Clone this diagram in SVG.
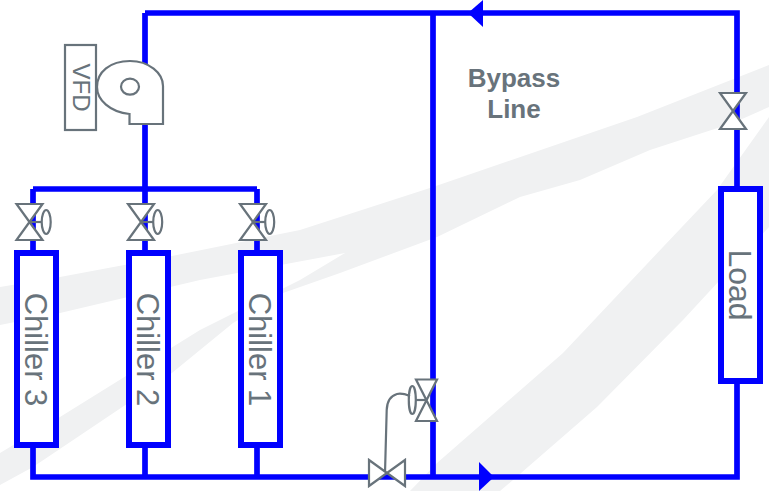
<svg xmlns="http://www.w3.org/2000/svg" width="769" height="491" viewBox="0 0 769 491">
<style>
.pipe{fill:none;stroke:#0000ff;stroke-width:5.7}
.box{fill:#fff;stroke:#0000ff;stroke-width:6}
.sym{fill:#fff;stroke:#68737b;stroke-width:2.2}
.line{fill:none;stroke:#68737b;stroke-width:2.2}
.lbl{font-family:"Liberation Sans",Arial,sans-serif;fill:#68737b;text-anchor:middle}
.bg{fill:#f0f1f2}
</style>
<defs>
<g id="valve"><path class="sym" d="M-13,-18H13L-13,18H13Z"/></g>
<g id="avalve"><path class="sym" d="M-13,-18H13L-13,18H13Z"/><path class="line" d="M0,0H12"/><ellipse class="line" cx="16.700" cy="0" rx="4.500" ry="12"/></g>
</defs>
<g id="background">
<path class="bg" d="M0,287L60,277L167,257L300,230L433,187L637,117L769,65V107L733,123L650,150L580,180L520,197L437,237L340,273L283,293L233,323L167,377L33,467L0,485V453L60,417L200,330L300,280L345,253L200,280L60,313L0,325Z"/>
<path class="bg" d="M410,491L437,463L563,353L663,247L717,190L769,117V227L683,320L597,407L513,480L500,491Z"/>
</g>
<g id="connectors">
<path class="pipe" d="M145,13H737V189M145,13V75M145,120V189M433,13V477M33,189H257M33,189V250M145,189V250M257,189V250M33,448V477H737V381M145,448V477M257,448V477"/>
<path fill="#0000ff" d="M483,0V27L468,13Z"/>
<path fill="#0000ff" d="M479,462V491L494,477Z"/>
</g>
<g id="chiller-3"><rect class="box" x="17" y="253" width="39" height="192"/><text class="lbl" font-size="31" transform="translate(25,349.500) rotate(90)">Chiller 3</text></g>
<g id="chiller-2"><rect class="box" x="129" y="253" width="39" height="192"/><text class="lbl" font-size="31" transform="translate(137,349.500) rotate(90)">Chiller 2</text></g>
<g id="chiller-1"><rect class="box" x="241" y="253" width="39" height="192"/><text class="lbl" font-size="31" transform="translate(249,349.500) rotate(90)">Chiller 1</text></g>
<g id="load"><rect class="box" x="721" y="189" width="39" height="192"/><text class="lbl" font-size="32" transform="translate(729,285) rotate(90)">Load</text></g>
<g id="valve-3"><use href="#avalve" x="29.500" y="222"/></g>
<g id="valve-2"><use href="#avalve" x="141" y="222"/></g>
<g id="valve-1"><use href="#avalve" x="253" y="222"/></g>
<g id="valve-load"><use href="#valve" x="733" y="111"/></g>
<g id="valve-bypass"><path class="line" d="M410,396C405,394 401,393 397,394C390,396 387,402 386.700,410L385,473"/><path class="sym" d="M416,379.500H437L416,421H437Z"/><path class="line" d="M416,400H426.500"/><ellipse class="line" cx="412.300" cy="400" rx="3.500" ry="14"/></g>
<g id="valve-bottom"><path class="sym" d="M369,460V486L405,460V486Z"/></g>
<g id="vfd"><rect x="65" y="45" width="31" height="85" fill="#fff" class="line"/><text class="lbl" font-size="24" transform="translate(73,87.500) rotate(90)">VFD</text></g>
<g id="pump"><path class="sym" d="M163,124H129.500V114C110,112 97,100 97,87C97,72 110,61 130,61C149,61 163,73 163,86Z"/><ellipse class="line" cx="130" cy="86.700" rx="9" ry="8"/></g>
<g id="bypass-label"><text class="lbl" font-size="26" font-weight="bold" x="514" y="87">Bypass</text><text class="lbl" font-size="26" font-weight="bold" x="514" y="118">Line</text></g>
</svg>
